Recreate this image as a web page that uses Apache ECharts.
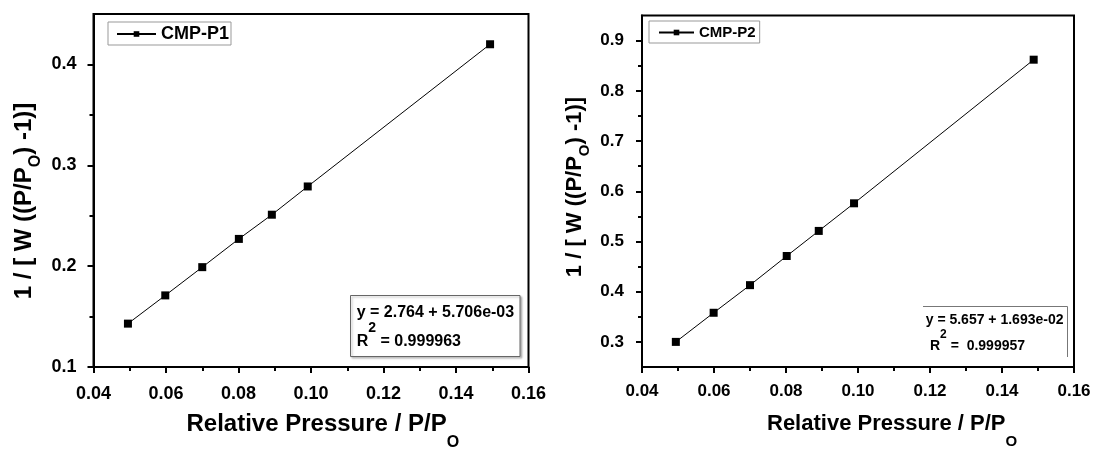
<!DOCTYPE html>
<html>
<head>
<meta charset="utf-8">
<script src="https://cdn.jsdelivr.net/npm/echarts@6/dist/echarts.min.js"></script>
<style>
  html, body { margin: 0; padding: 0; background: #fff; }
  #chart { width: 1097px; height: 450px; }
</style>
</head>
<body>
<div id="chart"></div>
<script>
// BET-style linear plots for two samples: 1/[W((P/Po)-1)] against relative pressure
const pressureP1 = [0.0495, 0.0598, 0.0700, 0.0801, 0.0892, 0.0991, 0.1494];
const betP1      = [0.143, 0.171, 0.199, 0.227, 0.251, 0.279, 0.420];
const pressureP2 = [0.0494, 0.0599, 0.0700, 0.0802, 0.0891, 0.0989, 0.1488];
const betP2      = [0.300, 0.358, 0.413, 0.471, 0.521, 0.576, 0.862];

const seriesNames = ['CMP-P1', 'CMP-P2'];

// tick positions
const yMajorP1 = [0.1, 0.2, 0.3, 0.4];
const yMinorP1 = [0.15, 0.25, 0.35];
const yMajorP2 = [0.3, 0.4, 0.5, 0.6, 0.7, 0.8, 0.9];
const yMinorP2 = [0.35, 0.45, 0.55, 0.65, 0.75, 0.85];

// linear-fit annotations
const fitP1 = ['y = 2.764 + 5.706e-03', ' = 0.999963'];
const fitP2 = ['y = 5.657 + 1.693e-02', ' =  0.999957'];

const FONT = '"Liberation Sans", Arial, sans-serif';
const BLACK = '#000';

function xAxisFor(gridIndex, fontSize, margin) {
  return {
    type: 'value', gridIndex, position: 'bottom',
    min: 0.04, max: 0.16, interval: 0.02,
    axisLine: { show: true, onZero: false, lineStyle: { color: BLACK, width: 2 } },
    axisTick: { show: true, inside: false, length: 6, lineStyle: { color: BLACK, width: 2 } },
    minorTick: { show: true, splitNumber: 2, length: 4, lineStyle: { color: BLACK, width: 2 } },
    splitLine: { show: false },
    axisLabel: {
      color: BLACK, fontWeight: 'bold', fontSize, fontFamily: FONT, margin,
      formatter: v => v.toFixed(2)
    }
  };
}

function yAxisMajor(gridIndex, min, max, ticks, fontSize, margin) {
  return {
    type: 'value', gridIndex, position: 'left', min, max,
    axisLine: { show: true, onZero: false, lineStyle: { color: BLACK, width: 2 } },
    axisTick: { show: true, inside: false, length: 6, customValues: ticks, lineStyle: { color: BLACK, width: 2 } },
    splitLine: { show: false },
    axisLabel: {
      color: BLACK, fontWeight: 'bold', fontSize, fontFamily: FONT, margin,
      customValues: ticks, formatter: v => String(Math.round(v * 10) / 10)
    }
  };
}

function yAxisMinor(gridIndex, min, max, ticks) {
  return {
    type: 'value', gridIndex, position: 'left', min, max,
    axisLine: { show: false },
    axisTick: { show: true, inside: false, length: 4, customValues: ticks, lineStyle: { color: BLACK, width: 2 } },
    splitLine: { show: false },
    axisLabel: { show: false }
  };
}

function lineSeries(name, xi, yi, xs, ys) {
  return {
    type: 'line', name, xAxisIndex: xi, yAxisIndex: yi,
    data: xs.map((x, i) => [x, ys[i]]),
    symbol: 'rect', symbolSize: 8, showSymbol: true,
    lineStyle: { color: BLACK, width: 1 },
    itemStyle: { color: BLACK },
    emphasis: { disabled: true },
    z: 3
  };
}

function legendFor(name, left, top, fontSize, itemWidth, padding) {
  return {
    data: [name], left, top, orient: 'horizontal',
    selectedMode: false,
    backgroundColor: '#fff',
    borderColor: '#999', borderWidth: 1, borderRadius: 0,
    padding, itemWidth, itemHeight: 7, itemGap: 0,
    textStyle: { color: BLACK, fontWeight: 'bold', fontSize, fontFamily: FONT, padding: [0, 0, 0, 0] }
  };
}

// axis title with a subscript "O"
function titleText(x, y, mainSize, subSize, subDrop, before, after, rotate) {
  const t = '{m|' + before + '}{s|O}' + (after ? '{m|' + after + '}' : '');
  return {
    type: 'text', x, y, rotation: rotate ? Math.PI / 2 : 0, z: 10,
    style: {
      text: t,
      align: rotate ? 'center' : 'left',
      verticalAlign: 'middle',
      fill: BLACK,
      rich: {
        m: { fontSize: mainSize, lineHeight: mainSize, fontWeight: 'bold', fontFamily: FONT, fill: BLACK },
        s: { fontSize: subSize, lineHeight: subSize, fontWeight: 'bold', fontFamily: FONT, fill: BLACK,
             padding: [subDrop * 2, 0, 0, 0] }
      }
    }
  };
}

function fitLines(x, y1, y2, size, supSize, supRise, lines) {
  return [
    {
      type: 'text', x, y: y1, z: 10,
      style: { text: lines[0], fill: BLACK, align: 'left', verticalAlign: 'middle',
               font: 'bold ' + size + 'px ' + FONT }
    },
    {
      type: 'text', x, y: y2, z: 10,
      style: {
        text: '{m|R}{p|2}{m|' + lines[1] + '}',
        align: 'left', verticalAlign: 'middle', fill: BLACK,
        rich: {
          m: { fontSize: size, lineHeight: size, fontWeight: 'bold', fontFamily: FONT, fill: BLACK },
          p: { fontSize: supSize, lineHeight: supSize, fontWeight: 'bold', fontFamily: FONT, fill: BLACK,
               padding: [0, 0, supRise * 2, 0] }
        }
      }
    }
  ];
}

const chart = echarts.init(document.getElementById('chart'), null, { renderer: 'canvas' });

chart.setOption({
  animation: false,
  backgroundColor: '#fff',
  grid: [
    { left: 93.5, top: 14, width: 435, height: 353, show: true, borderColor: BLACK, borderWidth: 2, backgroundColor: 'transparent' },
    { left: 642, top: 15.5, width: 432, height: 351.5, show: true, borderColor: BLACK, borderWidth: 2, backgroundColor: 'transparent' }
  ],
  xAxis: [
    xAxisFor(0, 18, 18),
    xAxisFor(1, 17, 16)
  ],
  yAxis: [
    yAxisMajor(0, 0.1, 0.45, yMajorP1, 18, 17),
    yAxisMinor(0, 0.1, 0.45, yMinorP1),
    yAxisMajor(1, 0.25, 0.95, yMajorP2, 17, 18),
    yAxisMinor(1, 0.25, 0.95, yMinorP2)
  ],
  legend: [
    legendFor(seriesNames[0], 108, 22, 18, 39, [3, 2, 2, 8]),
    legendFor(seriesNames[1], 649, 21, 15, 35, [4, 4, 3, 9])
  ],
  series: [
    lineSeries(seriesNames[0], 0, 0, pressureP1, betP1),
    lineSeries(seriesNames[1], 1, 2, pressureP2, betP2)
  ],
  graphic: [
    // axis titles
    titleText(186.5, 424.5, 24, 16, 18, 'Relative Pressure / P/P', '', false),
    titleText(767, 424, 22, 15, 17.5, 'Relative Pressure / P/P', '', false),
    titleText(24.5, 201, 24, 16, 11, '1 / [ W ((P/P', ') -1)]', true),
    titleText(575, 187, 22, 15, 10, '1 / [ W ((P/P', ') -1)]', true),
    // fit box, left panel
    {
      type: 'rect', z: 5,
      shape: { x: 350.5, y: 295.5, width: 169.5, height: 61 },
      style: { fill: '#fff', stroke: '#666', lineWidth: 1,
               shadowBlur: 2, shadowOffsetX: 1.5, shadowOffsetY: 1.5, shadowColor: 'rgba(0,0,0,0.25)' }
    },
    ...fitLines(356.7, 313, 342, 16, 14, 14, fitP1),
    // fit box, right panel (top and right edges only)
    {
      type: 'polyline', z: 5,
      shape: { points: [[923, 306.5], [1067.5, 306.5], [1067.5, 357]] },
      style: { stroke: '#777', lineWidth: 1, fill: null }
    },
    ...fitLines(925.7, 320, 346, 14, 12, 11.5, fitP2).map((g, i) => (i === 1 ? Object.assign(g, { x: 930 }) : g))
  ]
});
</script>
</body>
</html>
